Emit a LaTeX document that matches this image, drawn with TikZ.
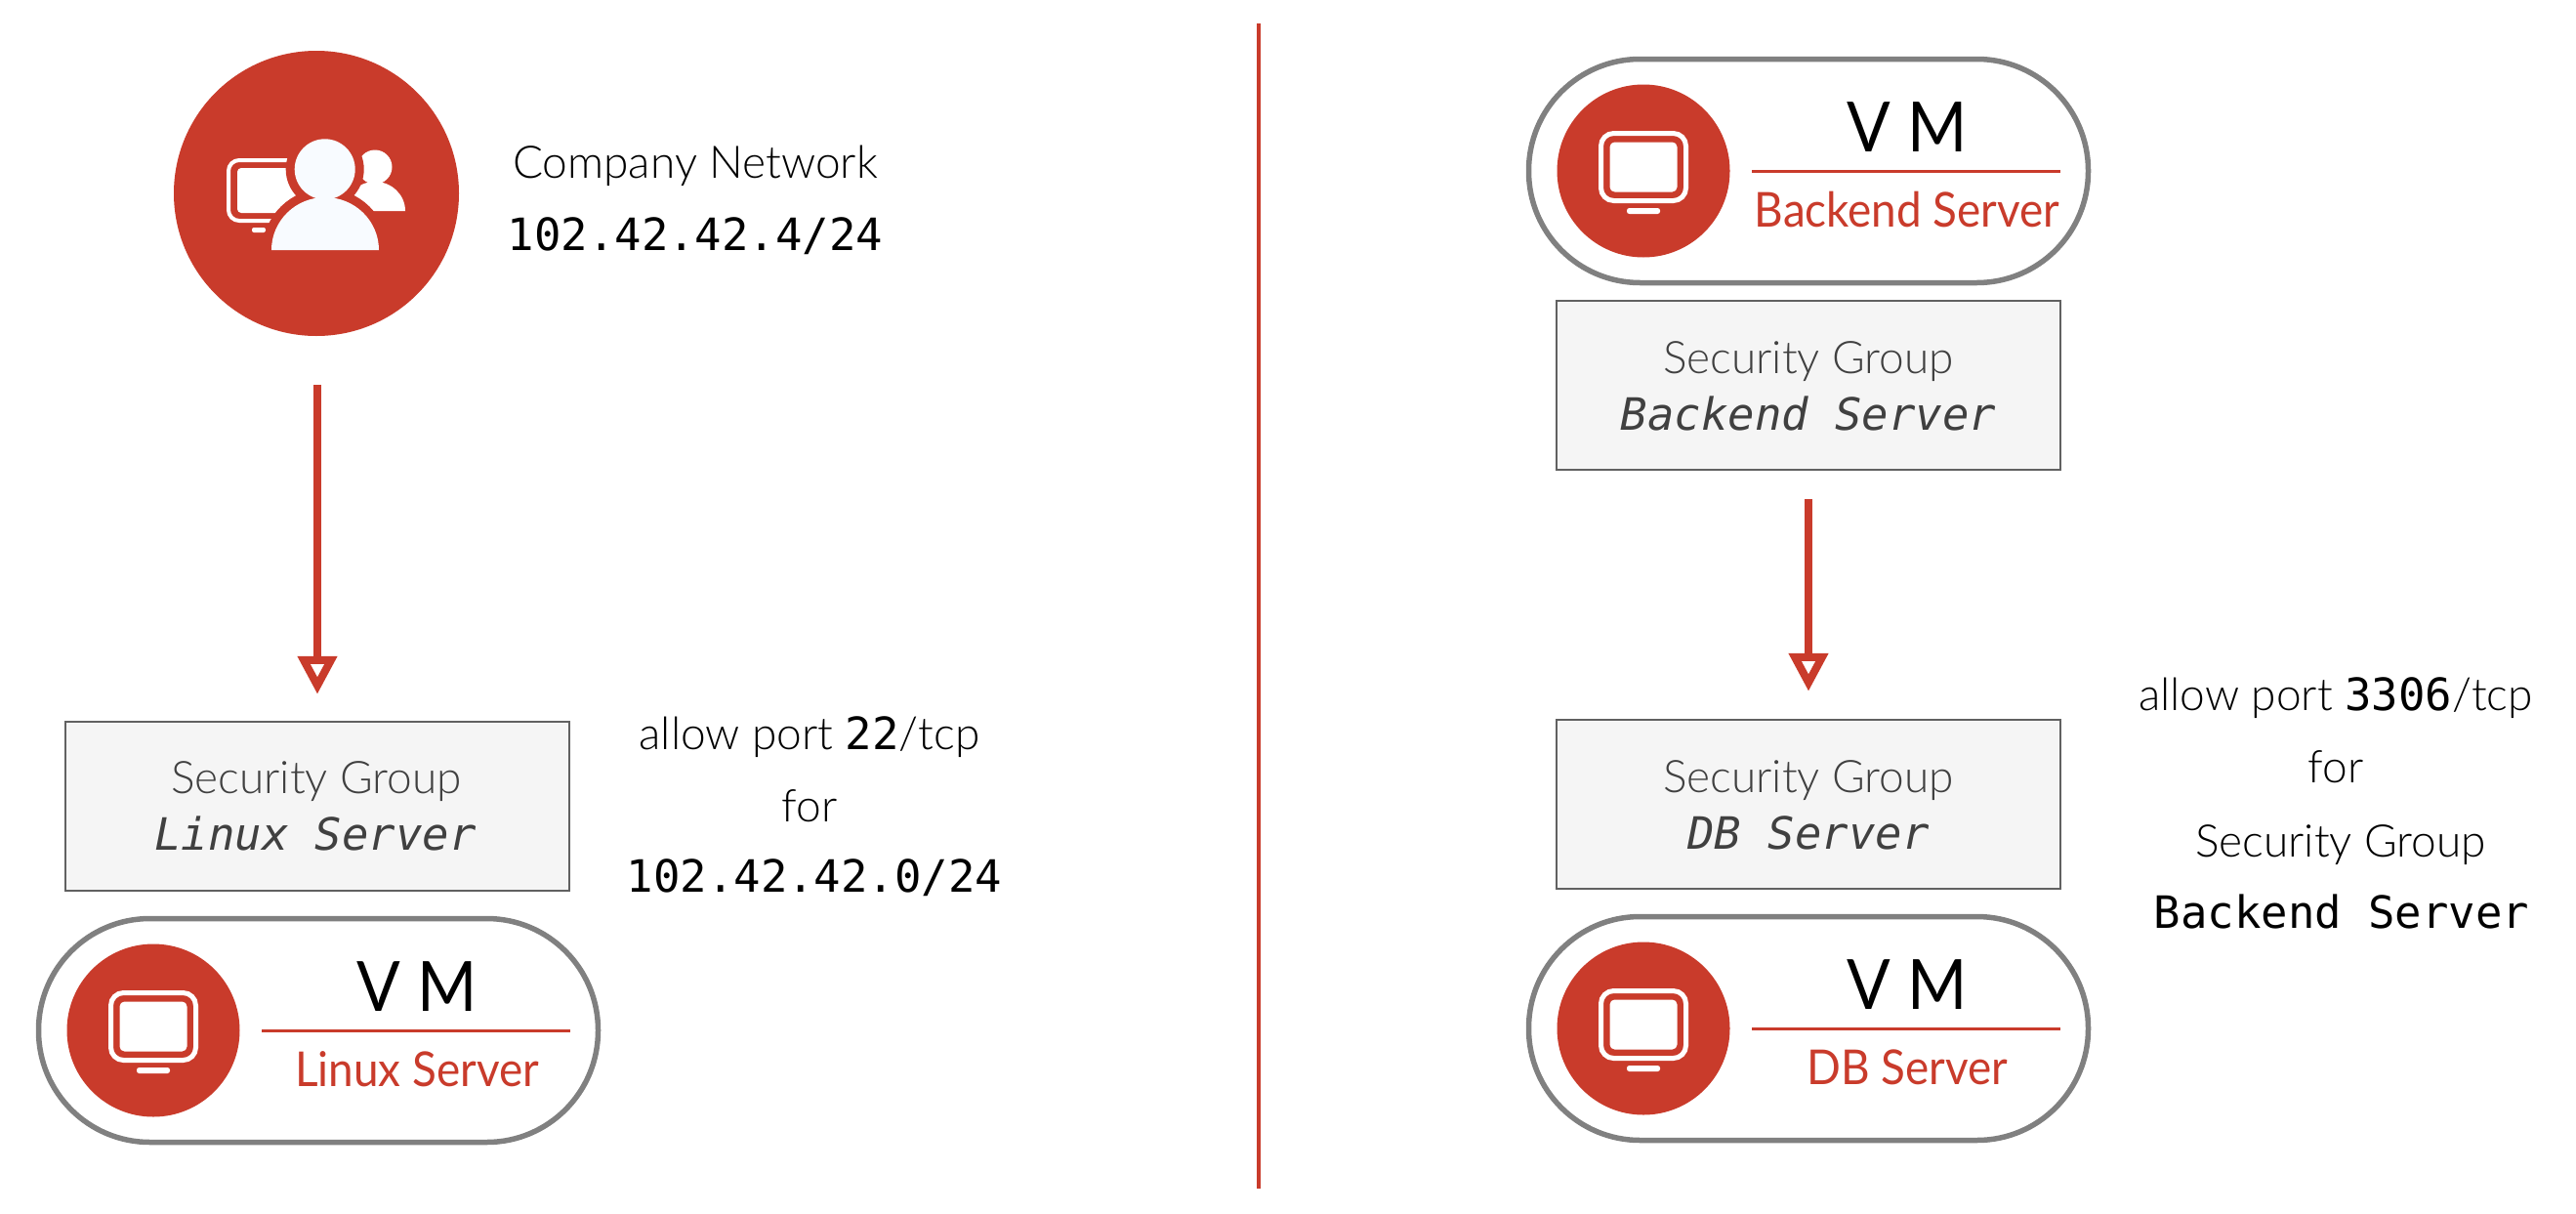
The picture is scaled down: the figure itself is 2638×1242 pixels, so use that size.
\documentclass[tikz,border=0pt]{standalone}
\usepackage{fontspec}
\setmainfont{Lato Light}
\newfontfamily\labf[FakeStretch=0.93]{Lato}
\newfontfamily\monof{DejaVu Sans Mono}
\newfontfamily\monoi{DejaVu Sans Mono Oblique}
\usetikzlibrary{arrows.meta}
\definecolor{rd}{HTML}{C93B2B}
\definecolor{gry}{HTML}{808080}
\definecolor{pers}{HTML}{F8FBFF}
\newcommand{\mono}[1]{{\monof\fontsize{45.6}{50}\selectfont #1}}
\newcommand{\monoit}[1]{{\monoi\fontsize{45.6}{50}\selectfont #1}}
\tikzset{
  txt/.style={anchor=base,inner sep=0pt,font=\fontsize{46}{50}\selectfont},
  sgtxt/.style={txt,text=black!75},
  sgbox/.style={draw=black!62,line width=2.5pt,fill=black!4,inner sep=0pt,minimum width=516pt,minimum height=173pt},
  pill/.style={draw=gry,line width=5.5pt,fill=white,rounded corners=114pt,inner sep=0pt,minimum width=573pt,minimum height=229pt},
  redcirc/.style={circle,fill=rd,inner sep=0pt,minimum size=177pt},
  flow/.style={draw=rd,line width=8pt,-{Triangle[length=39pt,width=39pt,line width=8pt,fill=white]}},
  rule/.style={draw=rd,line width=3pt},
}
% name, centre x, centre y, label
\newcommand{\vmpill}[4]{
  \node[pill] (#1) at (#2,#3) {};
  \node[redcirc] (#1c) at (#2-169,#3) {};
  \draw[white,line width=5pt,rounded corners=13pt] (#2-212.5,#3-38.5) rectangle (#2-125.5,#3+30.5);
  \fill[white,rounded corners=5pt] (#2-203.5,#3-29.5) rectangle (#2-134.5,#3+21.5);
  \fill[white,rounded corners=2.5pt] (#2-186,#3+38) rectangle (#2-152,#3+44);
  \node[txt,font=\labf\fontsize{71}{74}\selectfont,text=black] (#1t) at (#2+101,#3-20) {V M};
  \coordinate (#1a) at (#2-58,#3);
  \coordinate (#1b) at (#2+258,#3);
  \draw[rule] (#1a) -- (#1b);
  \node[txt,text=rd,font=\labf\fontsize{49.3}{50}\selectfont] (#1l) at (#2+101,#3+57) {#4};
}
\begin{document}
\begin{tikzpicture}[x=1pt,y=-1pt]
\useasboundingbox (0,0) rectangle (2638,1242);
\fill[white] (0,0) rectangle (2638,1242);
\coordinate (divt) at (1289,24);
\coordinate (divb) at (1289,1217);
\draw[rd,line width=4.5pt] (divt) -- (divb);
% company network
\node[circle,fill=rd,inner sep=0pt,minimum size=292pt] (net) at (324,198) {};
\draw[white,line width=4pt,rounded corners=11pt] (234,164) rectangle (316,226);
\fill[white,rounded corners=4pt] (243,172) rectangle (310,218);
\fill[white,rounded corners=2pt] (258,233) rectangle (272,238);
\fill[white] (384,171) circle (17.5);
\fill[white] (353,216) arc (180:360:31 and 30) -- cycle;
\fill[rd,draw=rd,line width=18pt] (332.7,173.3) circle (31);
\fill[rd,draw=rd,line width=18pt] (278,256) arc (180:360:55 and 54) -- cycle;
\fill[rd] (268,256) rectangle (398,275);
\fill[pers] (332.7,173.3) circle (31);
\fill[pers] (278,256) arc (180:360:55 and 54) -- cycle;
\node[txt] (cn) at (712,182) {Company Network};
\node[txt] (cnip) at (712,256) {\mono{102.42.42.4/24}};
% left
\node[sgbox] (sgl) at (325,825.5) {};
\node[sgtxt] (sgl1) at (324,812) {Security Group};
\node[sgtxt] (sgl2) at (323,870) {\monoit{Linux Server}};
\vmpill{vml}{326}{1055}{Linux Server}
\draw[flow,shorten <=50pt,shorten >=27pt] (sgl.north |- net.south) -- (sgl.north);
\node[txt] (la1) at (829,767) {allow port \mono{22}/tcp};
\node[txt] (la2) at (829,841) {for};
\node[txt] (la3) at (834,913) {\mono{102.42.42.0/24}};
% right
\vmpill{vmb}{1852}{175}{Backend Server}
\node[sgbox] (sgb) at (1852,394.5) {};
\node[sgtxt] (sgb1) at (1852,382) {Security Group};
\node[sgtxt] (sgb2) at (1852,440) {\monoit{Backend Server}};
\node[sgbox] (sgd) at (1852,823.5) {};
\node[sgtxt] (sgd1) at (1852,811) {Security Group};
\node[sgtxt] (sgd2) at (1852,869) {\monoit{DB Server}};
\vmpill{vmd}{1852}{1053}{DB Server}
\draw[flow,shorten <=29pt,shorten >=28pt] (sgb.south) -- (sgd.north);
\node[txt] (ra1) at (2392,727) {allow port \mono{3306}/tcp};
\node[txt] (ra2) at (2392,801) {for};
\node[txt] (ra3) at (2397,877) {Security Group};
\node[txt] (ra4) at (2398,950) {\mono{Backend Server}};
\end{tikzpicture}
\end{document}
